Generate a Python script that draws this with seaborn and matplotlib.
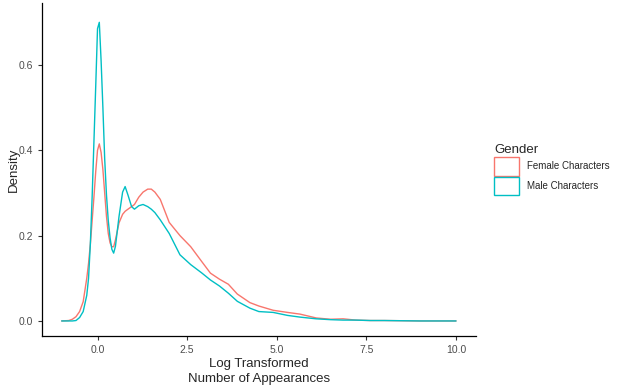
import pandas as pd
import seaborn as sns
import matplotlib.pyplot as plt
from matplotlib.patches import Patch

# Density curves (log transformed number of appearances)
x_vals = [-1.0, -0.8, -0.7, -0.6, -0.5, -0.4, -0.3, -0.25, -0.2, -0.15, -0.1, -0.05, 0.0,
          0.05, 0.1, 0.15, 0.2, 0.25, 0.3, 0.35, 0.4, 0.45, 0.5, 0.6, 0.7, 0.77, 0.85, 0.95,
          1.03, 1.15, 1.27, 1.4, 1.5, 1.6, 1.75, 2.0, 2.3, 2.6, 2.9, 3.15, 3.4, 3.65, 3.9,
          4.25, 4.5, 4.9, 5.3, 5.65, 6.1, 6.5, 6.85, 7.2, 7.6, 8.0, 9.0, 10.0]
female_density = [0.0, 0.001, 0.004, 0.01, 0.022, 0.045, 0.10, 0.135, 0.18, 0.235, 0.29,
                  0.35, 0.40, 0.415, 0.395, 0.355, 0.30, 0.245, 0.205, 0.183, 0.174, 0.174,
                  0.19, 0.23, 0.25, 0.257, 0.262, 0.268, 0.273, 0.29, 0.302, 0.309, 0.309,
                  0.302, 0.285, 0.231, 0.20, 0.174, 0.14, 0.112, 0.098, 0.086, 0.063, 0.043,
                  0.035, 0.025, 0.020, 0.016, 0.007, 0.004, 0.005, 0.002, 0.001, 0.001,
                  0.0, 0.0]
male_density = [0.0, 0.0, 0.0, 0.001, 0.008, 0.022, 0.06, 0.10, 0.18, 0.29, 0.42, 0.55,
                0.685, 0.70, 0.61, 0.50, 0.38, 0.295, 0.235, 0.195, 0.168, 0.159, 0.175,
                0.245, 0.302, 0.315, 0.295, 0.268, 0.262, 0.27, 0.273, 0.268, 0.262, 0.254,
                0.237, 0.205, 0.155, 0.132, 0.113, 0.096, 0.082, 0.065, 0.046, 0.030, 0.022,
                0.020, 0.013, 0.009, 0.005, 0.003, 0.002, 0.002, 0.001, 0.001, 0.0, 0.0]
genders = ["Female Characters", "Male Characters"]
colors = ["#F8766D", "#00BFC4"]

df = pd.concat([
    pd.DataFrame({"x": x_vals, "density": female_density, "Gender": genders[0]}),
    pd.DataFrame({"x": x_vals, "density": male_density, "Gender": genders[1]}),
])

sns.set_style("ticks")
plt.rcParams["font.family"] = ["Liberation Sans", "DejaVu Sans"]

fig = plt.figure(figsize=(6.26, 3.89), dpi=100)
ax = fig.add_axes([0.067, 0.136, 0.693, 0.856])

sns.lineplot(data=df, x="x", y="density", hue="Gender", palette=colors,
             estimator=None, sort=False, linewidth=1.0, legend=False, ax=ax)

ax.set_xlim(-1.55, 10.55)
ax.set_ylim(-0.0355, 0.745)
ax.set_xticks([0, 2.5, 5, 7.5, 10])
ax.set_xticklabels(["0.0", "2.5", "5.0", "7.5", "10.0"])
ax.set_yticks([0, 0.2, 0.4, 0.6])
ax.set_yticklabels(["0.0", "0.2", "0.4", "0.6"])
ax.tick_params(labelsize=7.5, labelcolor="#4D4D4D", color="#333333", length=3, width=0.8)
for s in ["top", "right"]:
    ax.spines[s].set_visible(False)
for s in ["left", "bottom"]:
    ax.spines[s].set_linewidth(0.9)
    ax.spines[s].set_color("black")

ax.set_xlabel("Log Transformed\nNumber of Appearances", fontsize=9.5, labelpad=2,
              linespacing=1.3)
ax.set_ylabel("Density", fontsize=9.5)
ax.yaxis.set_label_coords(-0.052, 0.5)

handles = [Patch(facecolor="white", edgecolor=c, linewidth=1.0, label=g)
           for g, c in zip(genders, colors)]
leg = fig.legend(handles=handles, title="Gender", loc="upper left",
                 bbox_to_anchor=(0.783, 0.64), frameon=False, fontsize=7,
                 title_fontsize=9.5, handlelength=2.6, handleheight=2.6,
                 handletextpad=0.8, labelspacing=0.1, borderaxespad=0)
leg._legend_box.align = "left"

fig.savefig("out.png", dpi=100)
